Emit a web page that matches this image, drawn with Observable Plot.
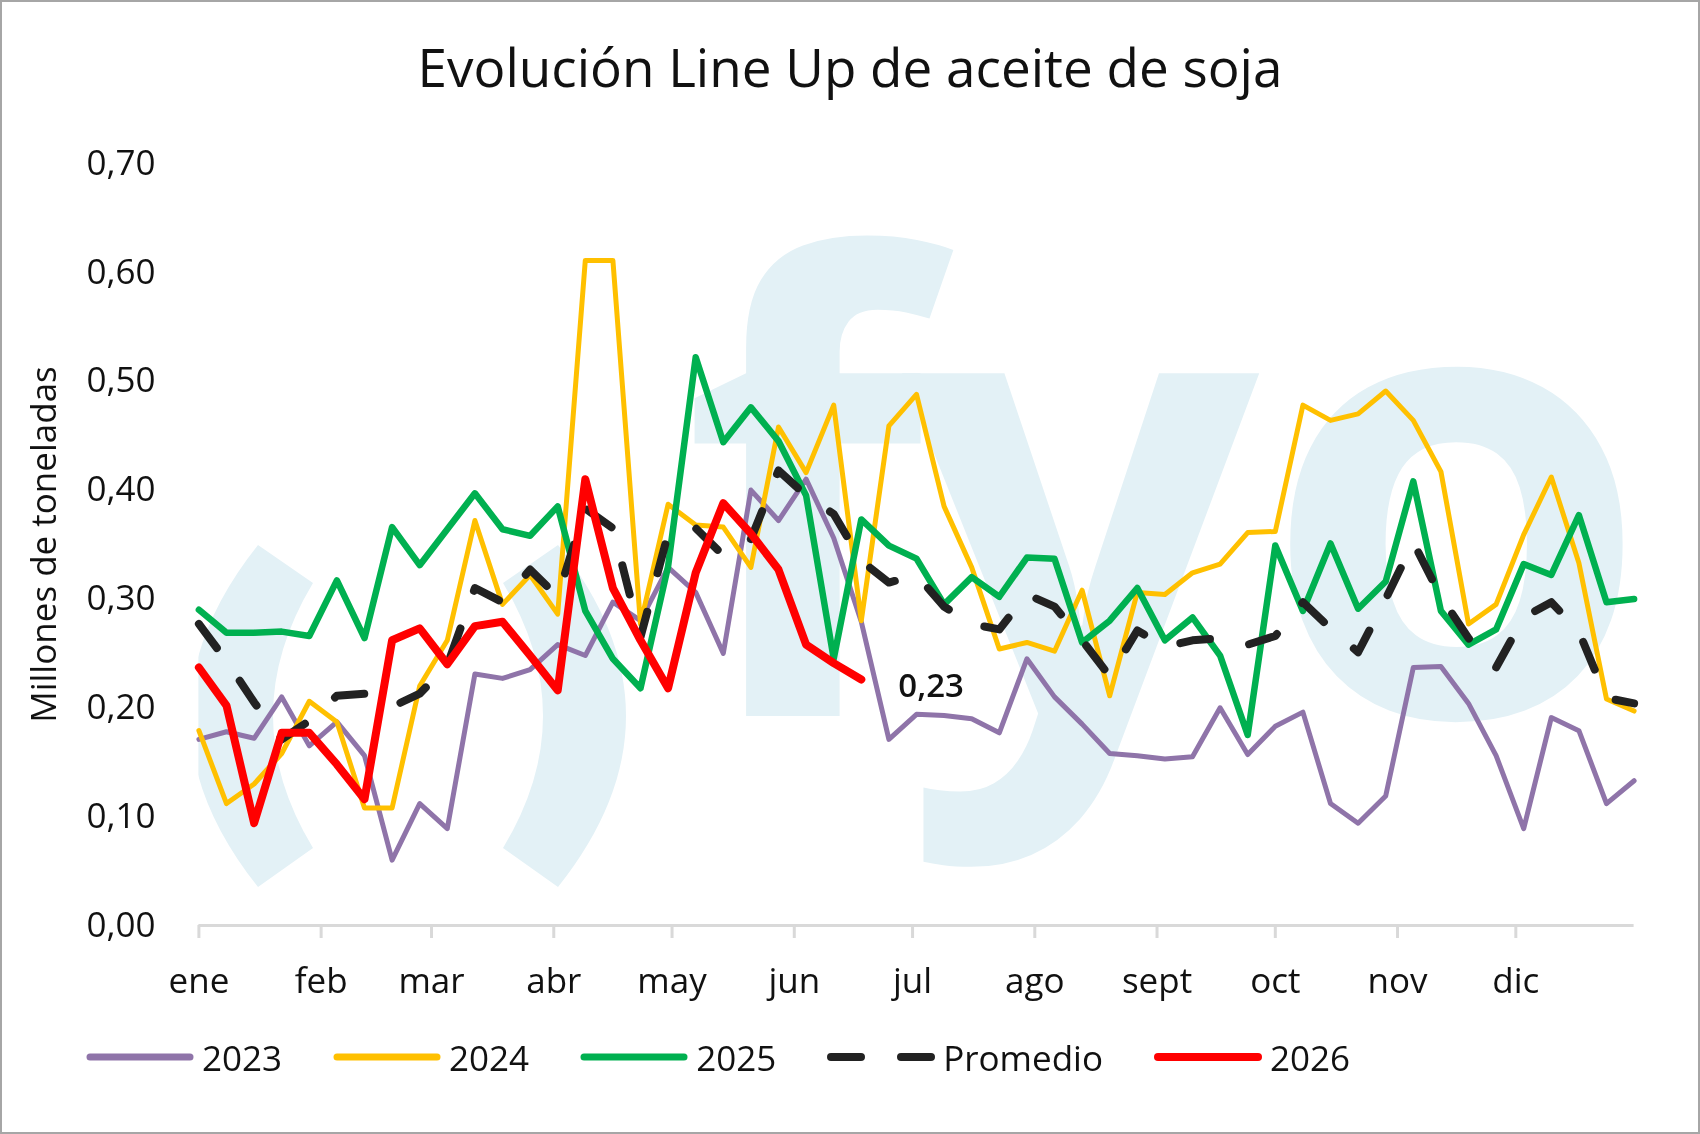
<!DOCTYPE html>
<html><head><meta charset="utf-8">
<script src="https://cdn.jsdelivr.net/npm/d3@7"></script>
<script src="https://cdn.jsdelivr.net/npm/@observablehq/plot@0.6"></script>
<style>
html,body{margin:0;padding:0;background:#fff;}
#wrap{position:relative;width:1700px;height:1134px;overflow:hidden;background:#fff;font-family:"Open Sans",sans-serif;color:#111;}
#frame{position:absolute;left:0;top:0;width:1700px;height:1134px;box-sizing:border-box;border:2px solid #a6a6a6;pointer-events:none;z-index:5;}
#title{position:absolute;left:0;width:1700px;top:39.5px;text-align:center;font-size:53px;line-height:1;z-index:2;}
#wm{position:absolute;left:0;top:0;z-index:0;}
#chart{position:absolute;left:0;top:120px;z-index:1;}
#legend{position:absolute;left:86px;top:1037px;height:40px;display:flex;align-items:center;font-size:35px;z-index:2;}
.item{display:flex;align-items:center;margin-right:51px;}
.item svg{margin-right:8px;}
</style></head>
<body>
<div id="wrap">
  <canvas id="wm" width="1700" height="1134"></canvas>
  <div id="title"></div>
  <div id="chart"></div>
  <div id="legend"></div>
  <div id="frame"></div>
</div>
<script>
const weeks = d3.range(53);
const monthLabels = ["ene","feb","mar","abr","may","jun","jul","ago","sept","oct","nov","dic"];
const monthStartDays = [0,31,59,90,120,151,181,212,243,273,304,334];
const yTicks = [0,0.1,0.2,0.3,0.4,0.5,0.6,0.7];
const yTitle = "Millones de toneladas";
const titleText = "Evolución Line Up de aceite de soja";

const v2023 = [0.171,0.178,0.172,0.210,0.165,0.187,0.156,0.060,0.112,0.089,
  0.231,0.227,0.235,0.258,0.248,0.297,0.280,0.329,0.306,0.250,
  0.400,0.372,0.410,0.356,0.279,0.171,0.194,0.193,0.190,0.177,
  0.245,0.210,0.185,0.158,0.156,0.153,0.155,0.200,0.157,0.183,
  0.196,0.112,0.094,0.119,0.237,0.238,0.204,0.156,0.089,0.191,
  0.179,0.112,0.133];
const v2024 = [0.179,0.112,0.130,0.158,0.206,0.187,0.108,0.108,0.220,0.262,
  0.372,0.295,0.322,0.286,0.611,0.611,0.277,0.387,0.368,0.366,
  0.329,0.458,0.416,0.478,0.280,0.459,0.488,0.385,0.329,0.254,
  0.260,0.252,0.308,0.211,0.306,0.304,0.324,0.332,0.361,0.362,
  0.478,0.464,0.470,0.491,0.464,0.417,0.277,0.295,0.359,0.412,
  0.333,0.208,0.197];
const v2025 = [0.290,0.269,0.269,0.270,0.266,0.317,0.264,0.366,0.331,0.364,
  0.397,0.364,0.358,0.385,0.289,0.245,0.218,0.330,0.522,0.444,
  0.476,0.445,0.395,0.245,0.373,0.349,0.337,0.295,0.320,0.302,
  0.338,0.337,0.260,0.280,0.310,0.262,0.283,0.248,0.175,0.349,
  0.289,0.351,0.291,0.316,0.408,0.289,0.258,0.272,0.332,0.322,
  0.377,0.297,0.300];
const vProm = [0.277,0.243,0.205,0.171,0.188,0.211,0.213,0.201,0.213,0.239,
  0.310,0.297,0.327,0.302,0.383,0.365,0.265,0.360,0.365,0.340,
  0.355,0.418,0.395,0.378,0.335,0.315,0.322,0.293,0.277,0.272,
  0.304,0.293,0.262,0.229,0.271,0.256,0.262,0.264,0.258,0.266,
  0.297,0.273,0.251,0.300,0.352,0.302,0.264,0.237,0.283,0.297,
  0.270,0.209,0.204];
const v2026 = [0.237,0.202,0.094,0.177,0.177,0.148,0.116,0.262,0.273,0.240,
  0.275,0.279,0.248,0.216,0.410,0.310,0.262,0.218,0.324,0.388,
  0.360,0.327,0.258,0.241,0.226];
const lastLabel = "0,23";

const seriesNames = ["2023","2024","2025","Promedio","2026"];
const seriesColors = ["#8f74a9","#ffc000","#00b050","#222222","#ff0000"];
const seriesWidths = [5,5,6.5,8,8];
const seriesDash = [null,null,null,"30,40",null];
const seriesValues = [v2023,v2024,v2025,vProm,v2026];

// background logo watermark (decorative, drawn on a canvas behind the chart)
(function drawWatermark() {
  const ctx = document.getElementById("wm").getContext("2d");
  ctx.save();
  ctx.beginPath();
  ctx.rect(198.4, 120, 1435.2, 805);
  ctx.clip();
  ctx.fillStyle = "#e3f1f6";
  ctx.fill(new Path2D("M258,545 Q122,716 258,887 L313,848 Q233,716 313,583 Z"));
  ctx.fill(new Path2D("M558,545 Q694,716 558,887 L503,848 Q583,716 503,583 Z"));
  ctx.font = "700 628px 'Open Sans'";
  ctx.textBaseline = "alphabetic";
  ctx.fillText("f", 682, 716);
  ctx.fillText("y", 902, 716);
  ctx.fillText("o", 1262, 716);
  ctx.restore();
})();

const monthTicks = monthStartDays.map(d => d / 7);
const tickLabel = new Map(monthTicks.map((t, i) => [t, monthLabels[i]]));
const toRows = arr => arr.map((v, i) => ({week: weeks[i], value: v}));
const fmt = d => d.toFixed(2).replace(".", ",");

const lineMarks = seriesValues.map((arr, k) => Plot.lineY(toRows(arr), {
  x: "week", y: "value", stroke: seriesColors[k], strokeWidth: seriesWidths[k],
  strokeLinejoin: "round", strokeLinecap: "round",
  ...(seriesDash[k] ? {strokeDasharray: seriesDash[k]} : {})
}));

const lastRow = toRows(v2026).slice(-1);

const chart = Plot.plot({
  width: 1700, height: 895,
  marginLeft: 198.4, marginRight: 66.4, marginTop: 43, marginBottom: 90,
  style: {fontFamily: '"Open Sans", sans-serif', fontSize: "35px", color: "#111", background: "transparent", overflow: "visible"},
  x: {domain: [0, 52]},
  y: {domain: [0, 0.7]},
  marks: [
    Plot.ruleY([0], {stroke: "#d9d9d9", strokeWidth: 3}),
    Plot.axisX({ticks: monthTicks, tickSize: 13, tickPadding: 29.6, stroke: "#d9d9d9", strokeWidth: 3,
      tickFormat: d => tickLabel.get(d), label: null, fill: "#111"}),
    Plot.axisY({ticks: yTicks, tickSize: 0, tickPadding: 43.4, tickFormat: fmt, label: null, fill: "#111"}),
    Plot.text([yTitle], {frameAnchor: "left", text: d => d, rotate: -90, dx: -143.4,
      textAnchor: "middle", lineAnchor: "bottom", fontSize: 35, fill: "#111"}),
    ...lineMarks,
    Plot.text(lastRow, {x: "week", y: "value", text: () => lastLabel, dx: 37, dy: 7,
      textAnchor: "start", lineAnchor: "middle", fontSize: 33, fontWeight: 600, fill: "#111"})
  ]
});
document.getElementById("chart").appendChild(chart);
document.getElementById("title").textContent = titleText;

const legend = document.getElementById("legend");
seriesNames.forEach((name, k) => {
  const item = document.createElement("div");
  item.className = "item";
  const dash = seriesDash[k] ? `stroke-dasharray="${seriesDash[k]}"` : "";
  item.innerHTML = `<svg width="108" height="12"><line x1="4" y1="6" x2="104" y2="6" stroke="${seriesColors[k]}" stroke-width="${k >= 3 ? 8 : 7}" stroke-linecap="round" ${dash}/></svg><span>${name}</span>`;
  legend.appendChild(item);
});
</script>
</body></html>
